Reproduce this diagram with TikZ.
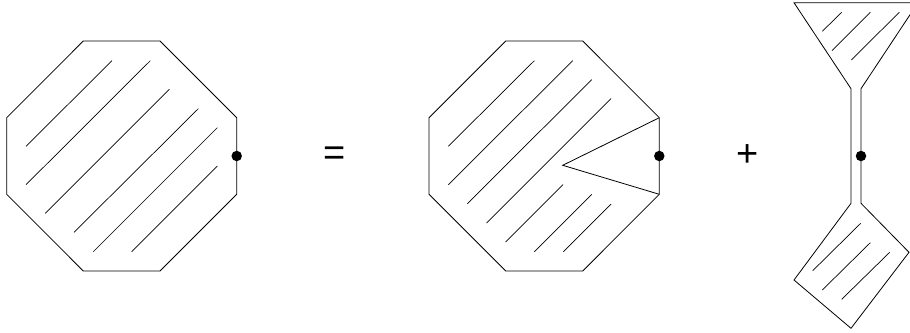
\documentclass[tikz,border=0pt]{standalone}
\usepackage{fontspec}
\setmainfont{Liberation Sans}
\tikzset{
  outline/.style={line width=0.8pt, line join=miter},
  hatch/.style={line width=0.7pt},
  pt/.style={circle, fill=black, inner sep=0pt, minimum size=10.5pt},
  sym/.style={font=\fontsize{38}{40}\selectfont, inner sep=0pt}
}
\begin{document}
\begin{tikzpicture}[x=1pt,y=-1pt]
\useasboundingbox (0,0) rectangle (910,332);
\clip (0,0) rectangle (910,332);
% left octagon
\draw[outline] (83.3,41) -- (160,41) -- (236.7,117.7) -- (236.7,194.3) -- (160,271) -- (83.3,271) -- (6.7,194.3) -- (6.7,117.7) -- cycle;
\draw[hatch] (26,146.3) -- (112,60.7);
\draw[hatch] (26,184.7) -- (150.3,60.7);
\draw[hatch] (45.3,213.3) -- (169.3,89.3);
\draw[hatch] (74,232.3) -- (198.3,108.7);
\draw[hatch] (93.3,251.7) -- (217.3,127.7);
\draw[hatch] (131.7,251.7) -- (217.3,166);
\node[pt] (d1) at (236.7,156) {};
\node[sym] (eq) at (334.5,156) {=};
% middle octagon with wedge
\draw[outline] (505.7,41) -- (582.7,41) -- (659.3,117.7) -- (659.3,194.3) -- (582.7,271) -- (505.7,271) -- (429,194.3) -- (429,117.7) -- cycle;
\draw[outline] (659.3,117.7) -- (562.7,165.3) -- (659.3,194.3);
\draw[hatch] (448.3,146.3) -- (534.3,60.7);
\draw[hatch] (448.3,184.7) -- (572.7,60.7);
\draw[hatch] (467.3,203.7) -- (591.7,79.7);
\draw[hatch] (486.7,223) -- (611,98.7);
\draw[hatch] (505.7,242) -- (563,184.7);
\draw[hatch] (534.3,251.7) -- (591.7,194.3);
\draw[hatch] (563.3,251.7) -- (611,204);
\node[pt] (d2) at (659.3,156) {};
\node[sym] (plus) at (747.5,156) {+};
% right figure
\draw[outline] (794,2.7) -- (918,2.7) -- (861,88.7) -- (861,203.3) -- (909,252.3) -- (851,328.3) -- (794,280) -- (851,203.3) -- (851,88.7) -- cycle;
\draw[hatch] (822.3,31.3) -- (841.7,12.3);
\draw[hatch] (832,50.7) -- (870.3,12.3);
\draw[hatch] (851.3,60) -- (899.3,12.3);
\draw[hatch] (812.7,270.7) -- (860.7,223.3);
\draw[hatch] (822.3,290) -- (870.3,242.7);
\draw[hatch] (841.7,299.3) -- (889.7,252.3);
\node[pt] (d3) at (861,156) {};
\end{tikzpicture}
\end{document}
